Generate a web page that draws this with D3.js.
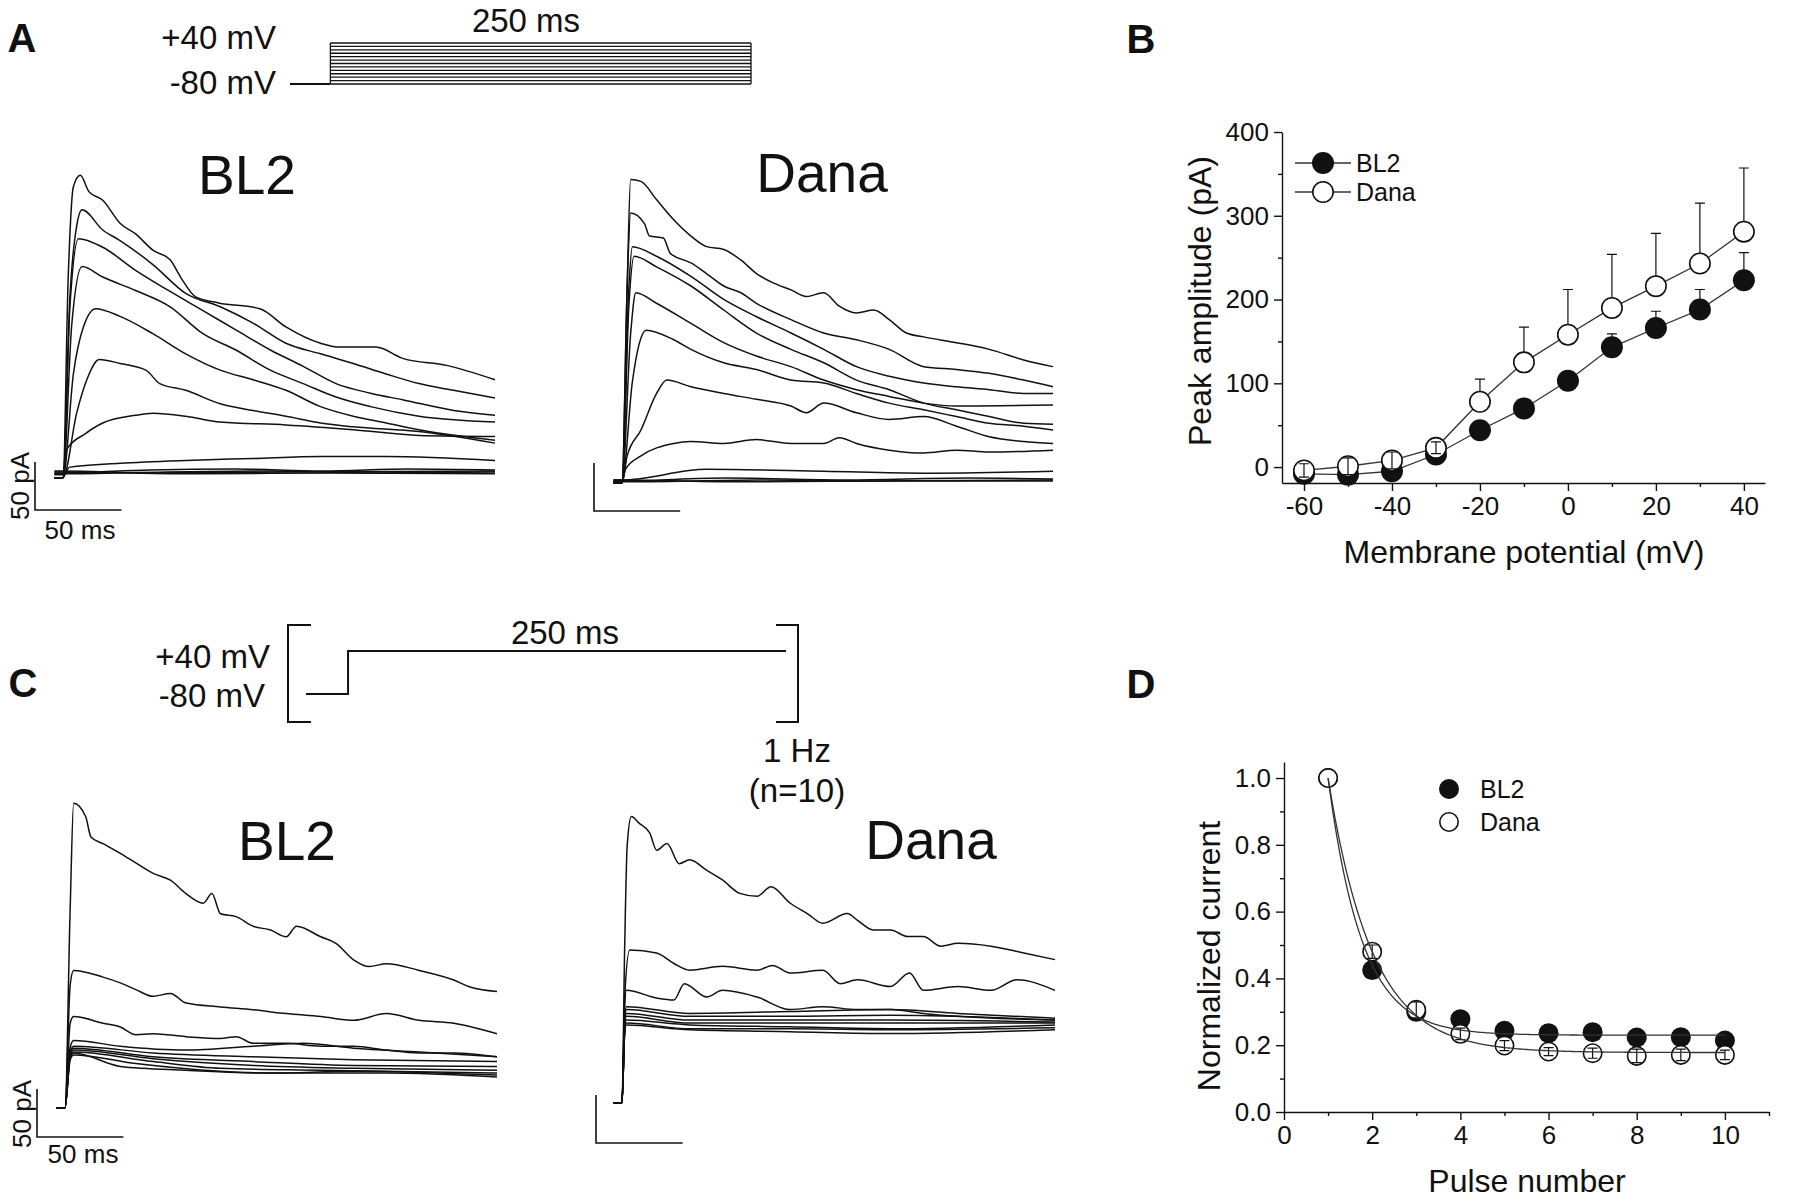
<!DOCTYPE html>
<html>
<head>
<meta charset="utf-8">
<script src="https://cdn.jsdelivr.net/npm/d3@7"></script>
<style>
  body { margin: 0; background: #fff; }
  svg { display: block; }
</style>
</head>
<body>
<div id="fig"></div>
<script>
// ---------------- data ----------------
// A / C stimulus protocols (ms, mV)
var stepLevelsA = [-80, -70, -60, -50, -40, -30, -20, -10, 0, 10, 20, 30, 40];
var stepDur = 250, holdDur = 24;
var stimC = [[-24, -80], [0, -80], [0, 40], [250, 40]];

// A: current traces during the voltage steps, [ms, pA]
var tracesA_BL2 = [
  [[0,-8],[3,200],[6,295],[10,307],[15,290],[23,281],[33,257],[42,246],[52,229],[62,219],[68,201],[77,180],[90,174],[114,168],[129,149],[149,132],[160,128],[181,128],[197,116],[222,109],[250,94]],
  [[0,-8],[4,180],[8,255],[11,271],[23,250],[33,239],[52,214],[71,184],[91,170],[110,153],[129,132],[149,121],[168,111],[187,100],[206,90],[226,83],[250,75]],
  [[0,-8],[4,170],[9,241],[23,232],[42,208],[61,187],[81,166],[100,146],[120,125],[139,108],[158,90],[178,80],[197,73],[226,62],[250,57]],
  [[0,-8],[5,150],[11,212],[23,201],[42,187],[62,170],[81,142],[100,125],[120,104],[139,90],[158,76],[178,66],[206,56],[250,50]],
  [[0,-8],[6,100],[12,150],[19,168],[33,160],[52,142],[71,121],[91,104],[110,94],[129,83],[149,66],[168,56],[187,49],[206,42],[250,31]],
  [[0,-8],[8,60],[14,95],[21,115],[33,111],[48,104],[56,90],[71,83],[91,69],[110,62],[129,56],[149,49],[168,45],[206,40],[250,28]],
  [[0,-8],[2,21],[13,38],[23,49],[42,57],[52,59],[71,56],[91,50],[129,47],[168,42],[206,36],[250,35]],
  [[0,-5],[4,3],[33,7],[71,10],[110,12],[149,14],[187,14],[250,10]],
  [[0,-3],[50,0],[100,1],[150,-1],[200,1],[250,0]],
  [[0,-4],[60,-2],[120,-1],[180,-3],[250,-2]],
  [[0,-2],[80,-4],[160,-3],[250,-4]],
  [[0,-1],[50,-3],[130,-2],[250,-1]]
];
var tracesA_Dana = [
  [[0,-5],[3,200],[5,311],[11,309],[20,290],[30,269],[40,252],[49,241],[59,238],[69,227],[78,213],[88,203],[98,196],[107,189],[117,193],[126,179],[136,172],[146,175],[155,165],[165,151],[175,147],[194,141],[213,134],[233,123],[250,116]],
  [[0,-5],[3,200],[5,276],[13,265],[16,252],[24,250],[28,234],[40,224],[49,213],[59,200],[69,193],[78,182],[98,165],[117,151],[136,144],[155,134],[175,116],[194,113],[213,109],[233,102],[250,95]],
  [[0,-5],[4,200],[6,241],[20,231],[40,210],[59,186],[78,168],[98,151],[117,134],[136,116],[155,106],[175,99],[194,95],[213,92],[233,88],[250,88]],
  [[0,-5],[4,180],[7,231],[20,220],[40,200],[59,175],[78,151],[98,134],[117,120],[136,102],[155,92],[175,78],[194,71],[213,64],[233,57],[250,56]],
  [[0,-5],[5,150],[8,193],[20,182],[40,161],[59,141],[78,127],[98,116],[117,102],[136,92],[155,85],[175,78],[194,75],[250,76]],
  [[0,-5],[6,100],[10,140],[14,154],[30,144],[40,134],[59,120],[78,113],[98,102],[117,99],[136,88],[155,78],[175,71],[194,64],[213,57],[233,54],[250,50]],
  [[0,-5],[3,23],[11,50],[20,88],[26,102],[40,95],[59,88],[78,82],[98,75],[107,68],[117,78],[136,68],[155,61],[175,64],[194,54],[213,43],[233,38],[250,36]],
  [[0,-3],[2,9],[11,23],[30,36],[40,38],[59,36],[78,40],[98,36],[117,36],[126,42],[136,36],[155,29],[175,26],[194,29],[213,27],[250,29]],
  [[0,-2],[49,9],[117,7],[175,5],[250,7]],
  [[0,-3],[60,0],[130,-2],[200,0],[250,-1]],
  [[0,-4],[80,-2],[150,-3],[250,-2]],
  [[0,-2],[70,-4],[170,-3],[250,-3]]
];

// C: currents evoked by 10 pulses to +40 mV at 1 Hz, [ms, pA]
var tracesC_BL2 = [
  [[0,-8],[3,200],[5,309],[12,295],[15,274],[22,267],[32,257],[41,247],[51,236],[61,229],[70,215],[80,205],[85,215],[90,194],[99,191],[109,181],[119,177],[128,170],[134,181],[148,170],[157,163],[167,146],[176,139],[186,142],[205,135],[225,125],[234,118],[250,113]],
  [[0,-8],[3,120],[5,135],[22,128],[32,122],[41,115],[51,108],[61,111],[70,101],[90,97],[109,94],[128,90],[148,87],[167,83],[186,90],[205,83],[225,80],[250,69]],
  [[0,-8],[3,80],[5,87],[22,80],[32,76],[41,68],[51,69],[70,66],[90,64],[99,66],[109,59],[128,59],[148,56],[167,56],[186,52],[205,49],[225,49],[250,45]],
  [[0,-8],[3,55],[5,62],[32,56],[70,52],[109,56],[138,59],[167,54],[205,50],[250,45]],
  [[0,-8],[3,50],[5,56],[51,49],[109,45],[167,42],[250,40]],
  [[0,-8],[3,50],[5,54],[51,45],[109,40],[167,36],[250,35]],
  [[0,-8],[3,48],[5,52],[51,43],[109,36],[167,33],[250,31]],
  [[0,-8],[3,46],[5,50],[51,40],[90,33],[148,31],[250,28]],
  [[0,-8],[3,44],[5,49],[32,35],[70,31],[119,28],[167,30],[250,26]],
  [[0,-8],[3,42],[5,47],[41,38],[90,30],[128,28],[186,28],[250,24]]
];
var tracesC_Dana = [
  [[0,-8],[1.5,150],[3,260],[5.4,290],[10,283],[16,273],[20,255],[26,262],[33,241],[39,245],[49,234],[58,224],[68,210],[78,207],[86,217],[97,200],[107,189],[116,179],[130,189],[136,182],[145,172],[155,172],[165,165],[174,165],[184,155],[194,158],[213,155],[232,148],[250,141]],
  [[0,-8],[1.5,100],[4.4,151],[20,148],[30,137],[39,130],[58,134],[78,130],[87,135],[97,127],[116,130],[126,116],[136,120],[155,113],[166,127],[174,109],[194,113],[213,109],[228,120],[250,109]],
  [[0,-8],[1.5,90],[2.5,109],[20,101],[30,99],[36,116],[49,102],[58,109],[78,102],[97,89],[116,92],[136,89],[155,89],[174,85],[194,82],[250,78]],
  [[0,-8],[1.5,75],[2.5,92],[39,85],[97,87],[155,89],[194,85],[250,80]],
  [[0,-8],[1.5,72],[2.5,89],[39,82],[97,82],[155,83],[250,78]],
  [[0,-8],[1.5,70],[2.5,85],[39,78],[97,78],[155,78],[250,76]],
  [[0,-8],[1.5,68],[2.5,82],[39,75],[97,75],[155,75],[250,75]],
  [[0,-8],[1.5,66],[2.5,78],[39,73],[97,71],[155,69],[250,73]],
  [[0,-8],[1.5,64],[2.5,75],[39,69],[97,69],[155,68],[250,70]],
  [[0,-8],[1.5,62],[2.5,73],[39,68],[97,66],[155,64],[250,68]]
];
var preStepMs = -5;

// B: peak amplitude vs membrane potential (mean + SEM)
var potentials = [-60, -50, -40, -30, -20, -10, 0, 10, 20, 30, 40];
var bl2Peak     = [-8, -9, -5, 15, 44, 70, 103, 143, 166, 188, 223];
var bl2PeakErr  = [3, 3, 4, 5, 8, 8, 10, 16, 20, 24, 33];
var danaPeak    = [-4, 1, 8, 23, 78, 125, 158, 190, 216, 243, 281];
var danaPeakErr = [8, 10, 10, 7, 27, 42, 54, 64, 63, 72, 76];
var bTicksX = [-60, -40, -20, 0, 20, 40], bMinorX = [-50, -30, -10, 10, 30];
var bTicksY = [0, 100, 200, 300, 400], bMinorY = [50, 150, 250, 350];

// D: normalized current vs pulse number (mean + SEM) and exponential fits
var pulses      = [1, 2, 3, 4, 5, 6, 7, 8, 9, 10];
var bl2Norm     = [1.0, 0.425, 0.30, 0.278, 0.243, 0.236, 0.239, 0.223, 0.224, 0.214];
var bl2NormErr  = [0, 0.015, 0.015, 0.015, 0.012, 0.012, 0.012, 0.012, 0.012, 0.012];
var danaNorm    = [1.0, 0.48, 0.306, 0.234, 0.199, 0.181, 0.176, 0.168, 0.171, 0.171];
var danaNormErr = [0, 0.02, 0.024, 0.017, 0.015, 0.012, 0.015, 0.02, 0.017, 0.014];
var fitBL2  = { y0: 0.23,  A: 0.77,  tau: 0.77 };
var fitDana = { y0: 0.178, A: 0.822, tau: 1.0 };
var dTicksX = [0, 2, 4, 6, 8, 10], dMinorX = [1, 3, 5, 7, 9, 11];
var dTicksY = [0, 0.2, 0.4, 0.6, 0.8, 1.0], dMinorY = [0.1, 0.3, 0.5, 0.7, 0.9];

// ---------------- drawing ----------------
var FONT = '"Liberation Sans", Arial, Helvetica, sans-serif';
var INK = "#111";

var svg = d3.select("#fig").append("svg")
    .attr("width", 1800)
    .attr("height", 1198)
    .attr("font-family", FONT);

function label(x, y, s, size, anchor, weight, rotate) {
  var t = svg.append("text")
      .attr("x", x).attr("y", y)
      .attr("font-size", size)
      .attr("text-anchor", anchor || "middle")
      .attr("font-weight", weight || "normal")
      .attr("fill", INK)
      .text(s);
  if (rotate) t.attr("transform", "rotate(" + rotate + "," + x + "," + y + ")");
  return t;
}

// panel letters
label(22, 52, "A", 40, "middle", "bold");
label(1141, 53, "B", 40, "middle", "bold");
label(23, 697, "C", 40, "middle", "bold");
label(1141, 698, "D", 40, "middle", "bold");

// ---- A stimulus ----
var sxA = d3.scaleLinear().domain([-holdDur, stepDur]).range([290, 751]);
var syA = d3.scaleLinear().domain([-80, 40]).range([84, 43]);
var gStA = svg.append("g").attr("stroke", INK).attr("stroke-width", 1.3);
gStA.append("line")
    .attr("x1", sxA(-holdDur)).attr("x2", sxA(0))
    .attr("y1", syA(-80)).attr("y2", syA(-80)).attr("stroke-width", 1.8);
gStA.selectAll("line.lvl").data(stepLevelsA).join("line")
    .attr("class", "lvl")
    .attr("x1", sxA(0)).attr("x2", sxA(stepDur))
    .attr("y1", function(d) { return syA(d); })
    .attr("y2", function(d) { return syA(d); });
[0, stepDur].forEach(function(t) {
  gStA.append("line")
      .attr("x1", sxA(t)).attr("x2", sxA(t))
      .attr("y1", syA(-80)).attr("y2", syA(40));
});
label(276, 49, "+40 mV", 33, "end");
label(276, 94, "-80 mV", 33, "end");
label(526, 32, "250 ms", 33);

// ---- C stimulus ----
var sxC = d3.scaleLinear().domain([-holdDur, stepDur]).range([306, 786]);
var syC = d3.scaleLinear().domain([-80, 40]).range([694, 651]);
svg.append("path")
    .attr("d", d3.line().x(function(d) { return sxC(d[0]); }).y(function(d) { return syC(d[1]); })(stimC))
    .attr("fill", "none").attr("stroke", INK).attr("stroke-width", 2);
// brackets: the pulse is repeated
svg.append("path")
    .attr("d", "M311,625H288V722H311")
    .attr("fill", "none").attr("stroke", INK).attr("stroke-width", 2);
svg.append("path")
    .attr("d", "M776,625H798V722H776")
    .attr("fill", "none").attr("stroke", INK).attr("stroke-width", 2);
label(270, 668, "+40 mV", 33, "end");
label(265, 707, "-80 mV", 33, "end");
label(565, 644, "250 ms", 33);
label(797, 762, "1 Hz", 33);
label(797, 802, "(n=10)", 33);

// ---- current traces ----
function drawTraces(traces, x, y) {
  var line = d3.line()
      .x(function(d) { return x(d[0]); })
      .y(function(d) { return y(d[1]); })
      .curve(d3.curveMonotoneX);
  svg.append("g").selectAll("path").data(traces).join("path")
      .attr("d", function(d) { return line([[preStepMs, d[0][1]]].concat(d)); })
      .attr("fill", "none")
      .attr("stroke", INK)
      .attr("stroke-width", 1.5)
      .attr("stroke-linejoin", "round");
}

function scaleBar(x0, y0, x, y, ms, pA) {
  var w = x(ms) - x(0), h = y(0) - y(pA);
  svg.append("path")
      .attr("d", "M" + x0 + "," + (y0 - h) + "V" + y0 + "H" + (x0 + w))
      .attr("fill", "none").attr("stroke", INK).attr("stroke-width", 1.6);
}

var xA1 = d3.scaleLinear().domain([0, 250]).range([63, 495]);
var yA1 = d3.scaleLinear().domain([0, 300]).range([470, 182]);
var xA2 = d3.scaleLinear().domain([0, 250]).range([622, 1053]);
var yA2 = d3.scaleLinear().domain([0, 300]).range([478, 190]);
var xC1 = d3.scaleLinear().domain([0, 250]).range([65, 497]);
var yC1 = d3.scaleLinear().domain([0, 300]).range([1100, 812]);
var xC2 = d3.scaleLinear().domain([0, 250]).range([622, 1055]);
var yC2 = d3.scaleLinear().domain([0, 300]).range([1095, 807]);

drawTraces(tracesA_BL2, xA1, yA1);
drawTraces(tracesA_Dana, xA2, yA2);
drawTraces(tracesC_BL2, xC1, yC1);
drawTraces(tracesC_Dana, xC2, yC2);

scaleBar(35, 510, xA1, yA1, 50, 50);
scaleBar(594, 511, xA2, yA2, 50, 50);
scaleBar(37, 1137, xC1, yC1, 50, 50);
scaleBar(596, 1143, xC2, yC2, 50, 50);

label(29, 486, "50 pA", 26, "middle", "normal", -90);
label(80, 539, "50 ms", 26);
label(31, 1114, "50 pA", 26, "middle", "normal", -90);
label(83, 1163, "50 ms", 26);

label(247, 194, "BL2", 55);
label(822, 192, "Dana", 55);
label(287, 860, "BL2", 55);
label(931, 859, "Dana", 55);

// ---- axes helper ----
function axes(xs, ys, xMaj, xMin, yMaj, yMin, xFmt, yFmt) {
  var x0 = xs.range()[0], y0 = ys.range()[0];
  var gx = svg.append("g").attr("transform", "translate(0," + y0 + ")");
  gx.append("g").call(d3.axisBottom(xs).tickValues(xMin).tickSize(4).tickFormat("").tickSizeOuter(0))
      .call(function(s) { s.select(".domain").remove(); });
  gx.append("g").call(d3.axisBottom(xs).tickValues(xMaj).tickSize(8).tickPadding(6).tickFormat(xFmt).tickSizeOuter(0));
  var gy = svg.append("g").attr("transform", "translate(" + x0 + ",0)");
  gy.append("g").call(d3.axisLeft(ys).tickValues(yMin).tickSize(4).tickFormat("").tickSizeOuter(0))
      .call(function(s) { s.select(".domain").remove(); });
  gy.append("g").call(d3.axisLeft(ys).tickValues(yMaj).tickSize(8).tickPadding(5).tickFormat(yFmt).tickSizeOuter(0));
  [gx, gy].forEach(function(g) {
    g.selectAll("line, path").attr("stroke", INK).attr("stroke-width", 1.4);
    g.selectAll("text").attr("font-size", 26).attr("font-family", FONT).attr("fill", INK);
  });
}

// plain hyphen for negatives, as in the original figure
function intFmt(d) { return String(d); }
function oneDec(d) { return d.toFixed(1); }

function errUp(g, xs, ys, xv, yv, ev, r, onTop) {
  // upper SEM bars; bars smaller than the symbol are drawn as +/- on top
  var data = xv.map(function(x, i) { return { x: x, y: yv[i], e: ev[i] }; })
      .filter(function(d) { return d.e > 0; });
  data.forEach(function(d) {
    var cx = xs(d.x), top = ys(d.y + d.e), bot = ys(d.y - d.e);
    var small = ys(d.y) - top < r;
    if (small !== onTop) return;
    var p = small ? "M" + cx + "," + bot + "V" + top : "M" + cx + "," + ys(d.y) + "V" + top;
    p += "M" + (cx - 5) + "," + top + "H" + (cx + 5);
    if (small) p += "M" + (cx - 5) + "," + bot + "H" + (cx + 5);
    g.append("path").attr("d", p).attr("fill", "none").attr("stroke", INK).attr("stroke-width", 1.2);
  });
}

// ---- B ----
var xB = d3.scaleLinear().domain([-65, 44.8]).range([1282, 1765]);
var yB = d3.scaleLinear().domain([-19, 400]).range([483, 132]);
axes(xB, yB, bTicksX, bMinorX, bTicksY, bMinorY, intFmt, intFmt);

var gB = svg.append("g");
var rB = 11;
var lineB = d3.line().x(function(d) { return xB(d[0]); }).y(function(d) { return yB(d[1]); });
gB.append("path").attr("d", lineB(d3.zip(potentials, bl2Peak)))
    .attr("fill", "none").attr("stroke", "#333").attr("stroke-width", 1.3);
gB.append("path").attr("d", lineB(d3.zip(potentials, danaPeak)))
    .attr("fill", "none").attr("stroke", "#333").attr("stroke-width", 1.3);
errUp(gB, xB, yB, potentials, bl2Peak, bl2PeakErr, rB, false);
errUp(gB, xB, yB, potentials, danaPeak, danaPeakErr, rB, false);
gB.selectAll("circle.bl2").data(d3.zip(potentials, bl2Peak)).join("circle")
    .attr("class", "bl2")
    .attr("cx", function(d) { return xB(d[0]); })
    .attr("cy", function(d) { return yB(d[1]); })
    .attr("r", rB).attr("fill", INK);
gB.selectAll("circle.dana").data(d3.zip(potentials, danaPeak)).join("circle")
    .attr("class", "dana")
    .attr("cx", function(d) { return xB(d[0]); })
    .attr("cy", function(d) { return yB(d[1]); })
    .attr("r", rB - 0.8).attr("fill", "#fff").attr("stroke", INK).attr("stroke-width", 1.6);
errUp(gB, xB, yB, potentials, danaPeak, danaPeakErr, rB, true);

// B legend
var legB = [{ name: "BL2", fill: INK, y: 163 }, { name: "Dana", fill: "#fff", y: 192 }];
legB.forEach(function(d) {
  gB.append("line").attr("x1", 1295).attr("x2", 1351).attr("y1", d.y).attr("y2", d.y)
      .attr("stroke", "#333").attr("stroke-width", 1.3);
  gB.append("circle").attr("cx", 1323).attr("cy", d.y).attr("r", rB - 0.8)
      .attr("fill", d.fill).attr("stroke", INK).attr("stroke-width", 1.6);
  label(1356, d.y + 9, d.name, 25, "start");
});
label(1211, 301, "Peak amplitude (pA)", 32, "middle", "normal", -90);
label(1524, 563, "Membrane potential (mV)", 32);

// ---- D ----
var xD = d3.scaleLinear().domain([0, 11]).range([1284, 1769]);
var yD = d3.scaleLinear().domain([0, 1.048]).range([1112, 762]);
axes(xD, yD, dTicksX, dMinorX, dTicksY, dMinorY, intFmt, oneDec);

var gD = svg.append("g");
var rD = 10;
errUp(gD, xD, yD, pulses, bl2Norm, bl2NormErr, rD, false);
gD.selectAll("circle.bl2").data(d3.zip(pulses, bl2Norm)).join("circle")
    .attr("class", "bl2")
    .attr("cx", function(d) { return xD(d[0]); })
    .attr("cy", function(d) { return yD(d[1]); })
    .attr("r", rD).attr("fill", INK);
gD.selectAll("circle.dana").data(d3.zip(pulses, danaNorm)).join("circle")
    .attr("class", "dana")
    .attr("cx", function(d) { return xD(d[0]); })
    .attr("cy", function(d) { return yD(d[1]); })
    .attr("r", rD - 0.8).attr("fill", "#fff").attr("stroke", INK).attr("stroke-width", 1.6);
errUp(gD, xD, yD, pulses, danaNorm, danaNormErr, rD, true);

var fitX = d3.range(1, 10.001, 0.05);
var fitLine = d3.line().x(function(d) { return xD(d[0]); }).y(function(d) { return yD(d[1]); });
[fitBL2, fitDana].forEach(function(f) {
  var pts = fitX.map(function(x) { return [x, f.y0 + f.A * Math.exp(-(x - 1) / f.tau)]; });
  gD.append("path").attr("d", fitLine(pts))
      .attr("fill", "none").attr("stroke", "#333").attr("stroke-width", 1.3);
});

var legD = [{ name: "BL2", fill: INK, y: 789 }, { name: "Dana", fill: "#fff", y: 822 }];
legD.forEach(function(d) {
  gD.append("circle").attr("cx", 1449).attr("cy", d.y).attr("r", rD - 0.8)
      .attr("fill", d.fill).attr("stroke", INK).attr("stroke-width", 1.6);
  label(1480, d.y + 9, d.name, 25, "start");
});
label(1220, 956, "Normalized current", 32, "middle", "normal", -90);
label(1527, 1192, "Pulse number", 32);
</script>
</body>
</html>
